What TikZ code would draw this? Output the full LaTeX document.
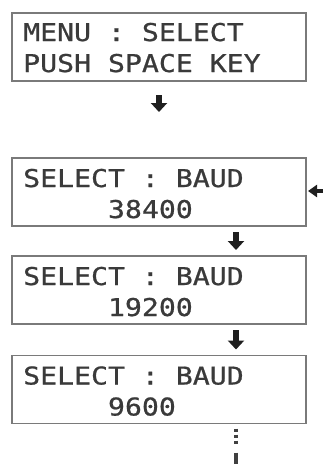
\documentclass[tikz,border=0pt]{standalone}
\usepackage{fontspec}
\usetikzlibrary{arrows.meta}
\newfontfamily\lcdfont[FakeStretch=1.15,FakeBold=0.8]{DejaVu Sans Mono}
\definecolor{lcdtext}{HTML}{3A3A3A}
\definecolor{lcdframe}{HTML}{7A7A7A}
\begin{document}
\begin{tikzpicture}[x=1pt,y=-1pt,
  lcdbox/.style={draw=lcdframe, line width=1.5pt, minimum width=294pt, minimum height=68pt, inner sep=0pt, outer sep=0pt},
  lcdline/.style={anchor=base west, inner sep=0pt, text=lcdtext, font=\lcdfont\fontsize{24.5}{24.5}\selectfont},
  blockarrow/.style={draw=black!88, line width=6.5pt, -{Triangle[width=16pt,length=9pt]}},
  sidearrow/.style={draw=black!88, line width=4.5pt, -{Triangle[width=12pt,length=9pt]}},
  dotline/.style={draw=black!75, line width=3.2pt, dash pattern=on 3pt off 3pt on 3pt off 3pt on 3pt off 9pt on 30pt}
]
\useasboundingbox (0,0) rectangle (323,464);

\node[lcdbox] (b1) at (159,47) {};
\node[lcdbox] (b2) at (159,192) {};
\node[lcdbox] (b3) at (159,290) {};
\node[lcdbox] (b4) at (159,389.5) {};

\node[lcdline] (t1a) at ([xshift=11pt,yshift=-28pt]b1.north west) {MENU : SELECT};
\node[lcdline] (t1b) at ([xshift=11pt,yshift=-59pt]b1.north west) {PUSH SPACE KEY};
\node[lcdline] (t2a) at ([xshift=11pt,yshift=-29pt]b2.north west) {SELECT : BAUD};
\node[lcdline] (t2b) at ([xshift=11pt,yshift=-60pt]b2.north west) {\ \ \ \ \ 38400};
\node[lcdline] (t3a) at ([xshift=11pt,yshift=-29pt]b3.north west) {SELECT : BAUD};
\node[lcdline] (t3b) at ([xshift=11pt,yshift=-60pt]b3.north west) {\ \ \ \ \ 19200};
\node[lcdline] (t4a) at ([xshift=11pt,yshift=-29pt]b4.north west) {SELECT : BAUD};
\node[lcdline] (t4b) at ([xshift=11pt,yshift=-60pt]b4.north west) {\ \ \ \ \ 9600};

\coordinate (sidein) at (323,191);
\coordinate (dotend) at (236,464);

\draw[blockarrow, shorten <=14pt, shorten >=46pt] (b1.south) -- (b2.north);
\draw[blockarrow, shorten <=6pt, shorten >=6pt] ([xshift=77pt]b2.south) -- ([xshift=77pt]b3.north);
\draw[blockarrow, shorten <=6pt, shorten >=6pt] ([xshift=77pt]b3.south) -- ([xshift=77pt]b4.north);
\draw[sidearrow, shorten >=2pt] (sidein) -- (b2.east |- sidein);
\draw[dotline, shorten <=5pt] ([xshift=77pt]b4.south) -- (dotend);
\end{tikzpicture}
\end{document}
